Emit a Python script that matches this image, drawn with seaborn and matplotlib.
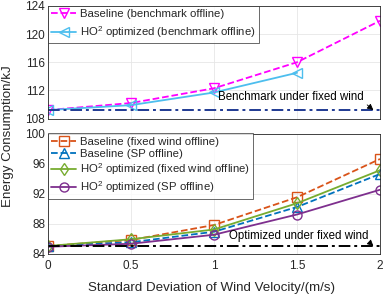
import matplotlib
matplotlib.use("Agg")
import matplotlib.pyplot as plt
import seaborn as sns
import pandas as pd

sns.set_theme(style="whitegrid")
plt.rcParams['font.family'] = ['Liberation Sans', 'DejaVu Sans']
plt.rcParams['mathtext.fontset'] = 'custom'
plt.rcParams['mathtext.rm'] = 'Liberation Sans'
plt.rcParams['mathtext.it'] = 'Liberation Sans:italic'

# ---- data ----
wind_std = [0, 0.5, 1, 1.5, 2]
baseline_bench = [109.2, 110.2, 112.3, 116.0, 121.9]
ho2_bench_x = [0, 0.5, 1, 1.5]
ho2_bench = [109.2, 109.9, 111.7, 114.5]
bench_fixed = 109.2

baseline_fixed = [85.0, 85.8, 87.8, 91.5, 96.6]
baseline_sp = [85.0, 85.5, 86.9, 90.2, 94.6]
ho2_fixed = [85.0, 85.9, 87.2, 90.7, 95.1]
ho2_sp = [84.9, 85.3, 86.5, 89.2, 92.5]
opt_fixed = 85.0

top_labels = ["Baseline (benchmark offline)", "HO$^{2}$ optimized (benchmark offline)"]
bot_labels = ["Baseline (fixed wind offline)", "Baseline (SP offline)",
              "HO$^{2}$ optimized (fixed wind offline)", "HO$^{2}$ optimized (SP offline)"]

fig = plt.figure(figsize=(3.89, 2.97), dpi=100)
L, W = 48/389, 332/389
ax1 = fig.add_axes([L, 1-118.5/297, W, 112.5/297])
ax2 = fig.add_axes([L, 1-253.5/297, W, 120/297])

grid_kw = dict(color='#e6e6e6', linewidth=0.6)
for ax in (ax1, ax2):
    ax.set_facecolor('white')
    ax.grid(True, **grid_kw)
    for s in ax.spines.values():
        s.set_color('#262626')
        s.set_linewidth(0.6)
    ax.tick_params(labelsize=8.5, colors='#262626', length=0, pad=2)
    ax.set_xlim(0, 2)
    ax.set_xticks([0, 0.5, 1, 1.5, 2])

mk = dict(markersize=6.5, markerfacecolor='none', markeredgewidth=1.0, linewidth=1.3)
ann_arrow = dict(arrowstyle='-|>', color='black', lw=0.6, mutation_scale=9,
                 shrinkA=0, shrinkB=0, relpos=(1.0, 0.05))

# top axes
d1 = pd.DataFrame({'x': wind_std, 'y': baseline_bench})
d2 = pd.DataFrame({'x': ho2_bench_x, 'y': ho2_bench})
sns.lineplot(data=d1, x='x', y='y', ax=ax1, color='#FF00FF', marker='v', linestyle='--',
             label=top_labels[0], markeredgecolor='#FF00FF', **mk)
sns.lineplot(data=d2, x='x', y='y', ax=ax1, color='#4DBEEE', marker='<', linestyle='-',
             label=top_labels[1], markeredgecolor='#4DBEEE', **mk)
ax1.axhline(bench_fixed, color='#1f3a93', linestyle=(0, (6, 2, 1.5, 2)), linewidth=1.4)
ax1.set_ylim(108, 124)
ax1.set_yticks([108, 112, 116, 120, 124])
ax1.set_xticklabels([])
ax1.set_xlabel('')
ax1.set_ylabel('')
ax1.annotate('Benchmark under fixed wind', xy=(1.96, bench_fixed), xytext=(1.464, 111.1),
             fontsize=8.3, ha='center', va='center', color='black', arrowprops=ann_arrow)
leg1 = ax1.legend(loc='upper left', fontsize=8.2, frameon=True, fancybox=False,
                  borderaxespad=0, handlelength=2.2, handletextpad=0.3,
                  borderpad=0.3, labelspacing=0.4)
leg1.get_frame().set_edgecolor('#262626')
leg1.get_frame().set_linewidth(0.6)

# bottom axes
series = [(baseline_fixed, '#D95319', 's', '--'),
          (baseline_sp, '#0072BD', '^', '--'),
          (ho2_fixed, '#77AC30', 'd', '-'),
          (ho2_sp, '#7E2F8E', 'o', '-')]
for (vals, c, m, ls), lab in zip(series, bot_labels):
    d = pd.DataFrame({'x': wind_std, 'y': vals})
    sns.lineplot(data=d, x='x', y='y', ax=ax2, color=c, marker=m, linestyle=ls,
                 label=lab, markeredgecolor=c, **mk)
ax2.axhline(opt_fixed, color='black', linestyle=(0, (6, 2, 1.5, 2)), linewidth=1.4)
ax2.set_ylim(84, 100)
ax2.set_yticks([84, 88, 92, 96, 100])
ax2.set_xticklabels(['0', '0.5', '1', '1.5', '2'])
ax2.tick_params(axis='x', pad=5)
ax2.set_xlabel('')
ax2.set_ylabel('')
ax2.annotate('Optimized under fixed wind', xy=(1.96, opt_fixed), xytext=(1.509, 86.35),
             fontsize=8.3, ha='center', va='center', color='black', arrowprops=ann_arrow)
leg2 = ax2.legend(loc='upper left', fontsize=8.2, frameon=True, fancybox=False,
                  borderaxespad=0, handlelength=2.2, handletextpad=0.3,
                  borderpad=0.3, labelspacing=0.2)
leg2.get_frame().set_edgecolor('#262626')
leg2.get_frame().set_linewidth(0.6)

fig.text(0.021, 0.54, 'Energy Consumption/kJ', rotation=90, ha='center', va='center',
         fontsize=9.6, color='#262626')
fig.text(212/389, 1-288/297, 'Standard Deviation of Wind Velocity/(m/s)',
         ha='center', va='center', fontsize=9.6, color='#262626')

fig.savefig('out.png', dpi=100, facecolor='white')
